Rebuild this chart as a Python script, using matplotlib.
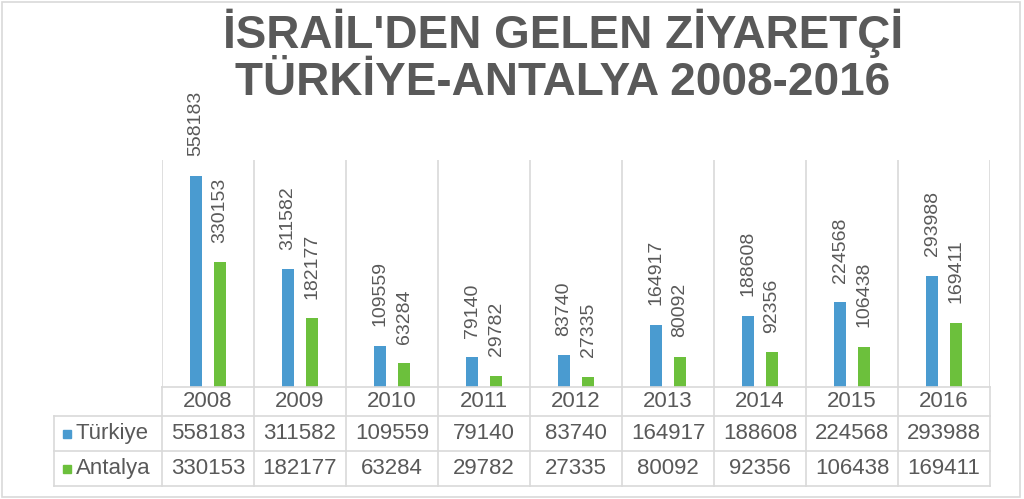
import matplotlib
matplotlib.use("Agg")
import matplotlib.pyplot as plt
from matplotlib.patches import Rectangle

years = ["2008", "2009", "2010", "2011", "2012", "2013", "2014", "2015", "2016"]
turkiye = [558183, 311582, 109559, 79140, 83740, 164917, 188608, 224568, 293988]
antalya = [330153, 182177, 63284, 29782, 27335, 80092, 92356, 106438, 169411]
series_names = ["Türkiye", "Antalya"]
title = "İSRAİL'DEN GELEN ZİYARETÇİ\nTÜRKİYE-ANTALYA 2008-2016"

BLUE = "#4A9BD0"
GREEN = "#6CC03C"
TXT = "#595959"
GRID = "#D9D9D9"
FONT = "Liberation Sans"

W, H = 1024, 499
fig = plt.figure(figsize=(W / 100, H / 100), dpi=100)
fig.patch.set_facecolor("white")

def fx(px):
    return px / W

def fy(py):
    return 1 - py / H

# outer border
fig.patches.append(Rectangle((fx(2), fy(497)), fx(1018), (495) / H, transform=fig.transFigure,
                             fill=False, edgecolor=GRID, linewidth=1.2))

# bar axes
L, R, T, B = 162, 990, 160, 387
ax = fig.add_axes([fx(L), fy(B), fx(R - L), (B - T) / H])
n = len(years)
x = list(range(n))
bw = 12 / 92
off = 12 / 92
ax.bar([i - off for i in x], turkiye, width=bw, color=BLUE, zorder=3)
ax.bar([i + off for i in x], antalya, width=bw, color=GREEN, zorder=3)
ax.set_xlim(-0.5, n - 0.5)
ax.set_ylim(0, 600000)
for s in ax.spines.values():
    s.set_visible(False)
ax.set_xticks([])
ax.set_yticks([])
for k in range(n + 1):
    ax.axvline(k - 0.5, color=GRID, linewidth=1.2, zorder=1)

for i in x:
    ax.annotate(str(turkiye[i]), (i - off, turkiye[i]), xytext=(0, 14), textcoords="offset points",
                rotation=90, ha="center", va="bottom", fontsize=14, color=TXT, family=FONT)
    ax.annotate(str(antalya[i]), (i + off, antalya[i]), xytext=(0, 14), textcoords="offset points",
                rotation=90, ha="center", va="bottom", fontsize=14, color=TXT, family=FONT)

# table axes
TL, TB = 54, 486
tax = fig.add_axes([fx(TL), fy(TB), fx(R - TL), (TB - B) / H])
xl = -0.5 - (L - TL) / 92
tax.set_xlim(xl, n - 0.5)
tax.set_ylim(0, TB - B)
tax.axis("off")
rows_y = [0, 35, 70, TB - B]
for yy in rows_y[:3]:
    tax.plot([xl, n - 0.5], [yy, yy], color=GRID, linewidth=1.2, clip_on=False)
tax.plot([-0.5, n - 0.5], [rows_y[3], rows_y[3]], color=GRID, linewidth=1.2, clip_on=False)
for k in range(n + 1):
    tax.plot([k - 0.5, k - 0.5], [0, rows_y[3]], color=GRID, linewidth=1.2, clip_on=False)
tax.plot([xl, xl], [0, 70], color=GRID, linewidth=1.2, clip_on=False)

hy = (70 + rows_y[3]) / 2
for i, yr in enumerate(years):
    tax.text(i, hy, yr, ha="center", va="center", fontsize=16, color=TXT, family=FONT)
for vals, yy in ((turkiye, 52.5), (antalya, 17.5)):
    for i, v in enumerate(vals):
        tax.text(i, yy, str(v), ha="center", va="center", fontsize=16, color=TXT, family=FONT)

for name, col, yy in ((series_names[0], BLUE, 52.5), (series_names[1], GREEN, 17.5)):
    tax.plot([xl + 13 / 92], [yy], marker="s", markersize=6, color=col, clip_on=False)
    tax.text(xl + 22 / 92, yy, name, ha="left", va="center", fontsize=16, color=TXT, family=FONT)

fig.text(fx(563), fy(57), title, ha="center", va="center", fontsize=33, fontweight="bold",
         color=TXT, family=FONT, linespacing=1.1)

fig.savefig("out.png", dpi=100)
